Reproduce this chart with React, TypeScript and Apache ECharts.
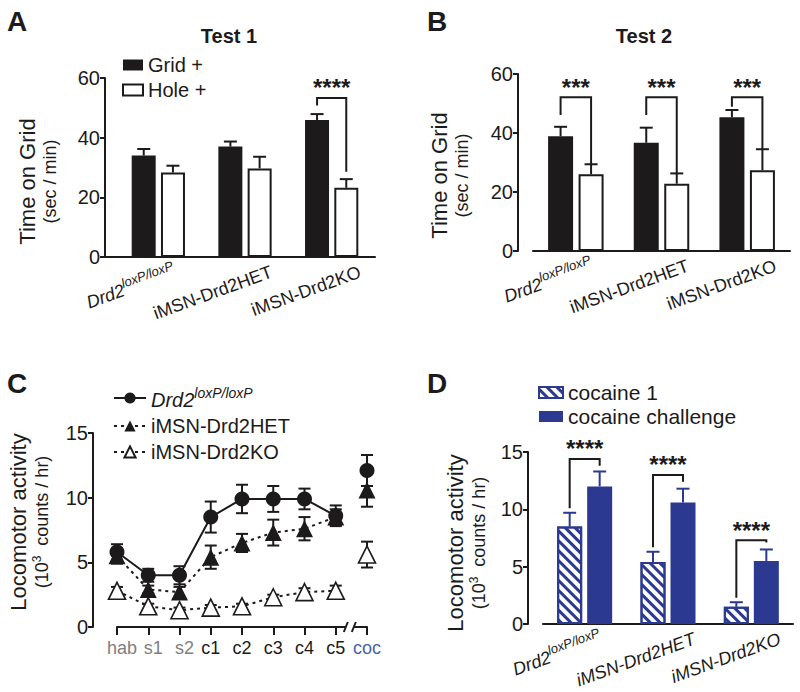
import React, { useEffect, useRef } from 'react';
import * as echarts from 'echarts';

// ---------- data ----------
const groups = ['Drd2loxP/loxP', 'iMSN-Drd2HET', 'iMSN-Drd2KO'];

// Panel A – Test 1 (sec / min)
const aGrid = [34.0, 37.0, 45.9];
const aGridErr = [2.2, 1.7, 2.0];
const aHole = [28.3, 29.7, 23.2];
const aHoleErr = [2.3, 3.9, 2.9];
// [group, bracket top, left leg end, right leg end]
const aBrackets = [[2, 53.3, 50.8, 28.6]];

// Panel B – Test 2 (sec / min)
const bGrid = [38.9, 36.7, 45.3];
const bGridErr = [3.2, 5.1, 2.5];
const bHole = [26.0, 22.8, 27.4];
const bHoleErr = [3.4, 3.5, 7.1];
const bBrackets = [
  [0, 52.1, 46.1, 29.4],
  [1, 52.1, 46.1, 26.3],
  [2, 52.1, 48.9, 34.5],
];

// Panel C – locomotor activity by session (10^3 counts / hr)
const phases = ['hab', 's1', 's2', 'c1', 'c2', 'c3', 'c4', 'c5', 'coc'];
const cFlox = [5.8, 4.0, 4.0, 8.5, 9.9, 9.9, 9.9, 8.6, 12.1];
const cFloxErr = [0.6, 0.5, 0.7, 1.2, 1.1, 1.0, 0.8, 0.8, 1.2];
const cHet = [5.5, 2.9, 2.7, 5.4, 6.5, 7.3, 7.6, 8.5, 10.6];
const cHetErr = [0.6, 0.3, 0.4, 0.9, 0.7, 1.0, 0.9, 0.6, 1.3];
const cKo = [2.8, 1.6, 1.3, 1.5, 1.6, 2.3, 2.7, 2.8, 5.6];
const cKoErr = [0.3, 0.2, 0.2, 0.2, 0.2, 0.2, 0.3, 0.4, 1.0];

// Panel D – cocaine 1 vs challenge (10^3 counts / hr)
const dCoc1 = [8.5, 5.4, 1.5];
const dCoc1Err = [1.2, 0.9, 0.4];
const dChal = [12.0, 10.6, 5.5];
const dChalErr = [1.3, 1.2, 1.0];
const dBrackets = [
  [0, 14.4, 10.1, 13.8],
  [1, 13.0, 6.7, 12.4],
  [2, 7.3, 2.3, 7.1],
];

const yTicksA = [0, 20, 40, 60];
const yTicksC = [0, 5, 10, 15];

// ---------- styles ----------
const FONT = '"Liberation Sans", Arial, Helvetica, sans-serif';
const BLACK = '#1c1a1b';
const NAVY = '#2b3990';
const COC_BLUE = '#4a63a8';
const GRAY = '#808080';
const LABEL_DX = [12, 22, 24];

function valueAxis(gridIndex: number, ticks: number[], offset: number, name: string, nameGap: number, rich: any, padding: number[]) {
  return {
    type: 'value',
    gridIndex,
    min: ticks[0],
    max: ticks[ticks.length - 1],
    interval: ticks[1] - ticks[0],
    offset,
    splitLine: { show: false },
    axisLine: { show: true, lineStyle: { color: BLACK, width: 2 } },
    axisTick: { show: true, length: 5, lineStyle: { color: BLACK, width: 2 } },
    axisLabel: { color: BLACK, fontSize: 20, fontFamily: FONT, margin: 5 },
    name,
    nameLocation: 'middle',
    nameRotate: 90,
    nameGap,
    nameTextStyle: { fontFamily: FONT, color: BLACK, rich, padding },
  };
}

function catAxis(gridIndex: number, data: string[]) {
  return {
    type: 'category',
    gridIndex,
    data,
    axisLine: { show: true, lineStyle: { color: BLACK, width: 2 } },
    axisTick: { show: false },
    axisLabel: { show: false },
    splitLine: { show: false },
  };
}

function errSeries(axis: number, vals: number[], errs: number[], dx: number, color: string) {
  return {
    type: 'custom',
    xAxisIndex: axis,
    yAxisIndex: axis,
    z: 5,
    silent: true,
    data: vals.map((v, i) => [i, v, v + errs[i]]),
    renderItem: (_p: any, api: any) => {
      const base = api.coord([api.value(0), api.value(1)]);
      const top = api.coord([api.value(0), api.value(2)]);
      const x = base[0] + dx;
      const st = { stroke: color, lineWidth: 2 };
      return {
        type: 'group',
        children: [
          { type: 'line', shape: { x1: x, y1: base[1], x2: x, y2: top[1] }, style: st },
          { type: 'line', shape: { x1: x - 6.5, y1: top[1], x2: x + 6.5, y2: top[1] }, style: st },
        ],
      };
    },
  };
}

function bracketSeries(axis: number, brackets: number[][], dx: number, stars: string) {
  return {
    type: 'custom',
    xAxisIndex: axis,
    yAxisIndex: axis,
    z: 6,
    silent: true,
    data: brackets,
    renderItem: (_p: any, api: any) => {
      const c = api.value(0);
      const t = api.coord([c, api.value(1)]);
      const l = api.coord([c, api.value(2)]);
      const r = api.coord([c, api.value(3)]);
      const xl = t[0] - dx;
      const xr = t[0] + dx;
      return {
        type: 'group',
        children: [
          {
            type: 'polyline',
            shape: { points: [[xl, l[1]], [xl, t[1]], [xr, t[1]], [xr, r[1]]] },
            style: { stroke: BLACK, lineWidth: 2, fill: null },
          },
          {
            type: 'text',
            style: {
              text: stars,
              x: (xl + xr) / 2,
              y: t[1] - 10,
              align: 'center',
              verticalAlign: 'middle',
              fontSize: 24,
              fontWeight: 'bold',
              fontFamily: FONT,
              fill: BLACK,
            },
          },
        ],
      };
    },
  };
}

function pointErrSeries(vals: number[], errs: number[]) {
  return {
    type: 'custom',
    xAxisIndex: 2,
    yAxisIndex: 2,
    z: 2,
    silent: true,
    data: vals.map((v, i) => [i, v, errs[i]]),
    renderItem: (_p: any, api: any) => {
      const i = api.value(0);
      const v = api.value(1);
      const e = api.value(2);
      const hi = api.coord([i, v + e]);
      const lo = api.coord([i, v - e]);
      const st = { stroke: BLACK, lineWidth: 2 };
      return {
        type: 'group',
        children: [
          { type: 'line', shape: { x1: hi[0], y1: hi[1], x2: lo[0], y2: lo[1] }, style: st },
          { type: 'line', shape: { x1: hi[0] - 6, y1: hi[1], x2: hi[0] + 6, y2: hi[1] }, style: st },
          { type: 'line', shape: { x1: lo[0] - 6, y1: lo[1], x2: lo[0] + 6, y2: lo[1] }, style: st },
        ],
      };
    },
  };
}

const yNameRichGrid = {
  t: { fontSize: 22, lineHeight: 26, fontFamily: FONT, color: BLACK },
  s: { fontSize: 18, lineHeight: 20, fontFamily: FONT, color: BLACK },
};
const yNameRichLoco = {
  t: { fontSize: 22, lineHeight: 26, fontFamily: FONT, color: BLACK },
  s: { fontSize: 18, lineHeight: 20, fontFamily: FONT, color: BLACK, verticalAlign: 'bottom' },
  u: { fontSize: 12, lineHeight: 20, fontFamily: FONT, color: BLACK, verticalAlign: 'top', padding: [0, 0, 8, 0] },
};

const cStyles = [
  { name: groups[0], vals: cFlox, errs: cFloxErr, symbol: 'circle', size: 15, fill: BLACK, line: 'solid' as any },
  { name: groups[1], vals: cHet, errs: cHetErr, symbol: 'triangle', size: 17, fill: BLACK, line: [3, 4] },
  { name: groups[2], vals: cKo, errs: cKoErr, symbol: 'triangle', size: 17, fill: '#ffffff', line: [3, 4] },
];

function buildOption() {
  const series: any[] = [];
  // Panel A
  series.push(
    { name: 'Grid +', type: 'bar', xAxisIndex: 0, yAxisIndex: 0, data: aGrid, barWidth: 24, barGap: '22%', itemStyle: { color: BLACK }, z: 3 },
    { name: 'Hole +', type: 'bar', xAxisIndex: 0, yAxisIndex: 0, data: aHole, barWidth: 24, barGap: '22%', itemStyle: { color: '#ffffff', borderColor: BLACK, borderWidth: 2 }, z: 3 },
    errSeries(0, aGrid, aGridErr, -14.6, BLACK),
    errSeries(0, aHole, aHoleErr, 14.6, BLACK),
    bracketSeries(0, aBrackets, 14.6, '****'),
  );
  // Panel B
  series.push(
    { name: 'Test 2 Grid +', type: 'bar', xAxisIndex: 1, yAxisIndex: 1, data: bGrid, barWidth: 25, barGap: '22%', itemStyle: { color: BLACK }, z: 3 },
    { name: 'Test 2 Hole +', type: 'bar', xAxisIndex: 1, yAxisIndex: 1, data: bHole, barWidth: 25, barGap: '22%', itemStyle: { color: '#ffffff', borderColor: BLACK, borderWidth: 2 }, z: 3 },
    errSeries(1, bGrid, bGridErr, -15.25, BLACK),
    errSeries(1, bHole, bHoleErr, 15.25, BLACK),
    bracketSeries(1, bBrackets, 15.25, '***'),
  );
  // Panel C
  cStyles.forEach((s) => {
    series.push(pointErrSeries(s.vals, s.errs));
  });
  cStyles.forEach((s) => {
    const itemStyle = { color: s.fill, borderColor: BLACK, borderWidth: s.fill === BLACK ? 0 : 1.6, opacity: 1 };
    series.push({
      name: s.name,
      type: 'line',
      xAxisIndex: 2,
      yAxisIndex: 2,
      data: s.vals.map((v, i) => (i < phases.length - 1 ? v : '-')),
      symbol: s.symbol,
      symbolSize: s.size,
      showAllSymbol: true,
      lineStyle: { color: BLACK, width: 2, type: s.line },
      itemStyle,
      z: 4,
    });
    series.push({
      name: s.name + ' (challenge)',
      type: 'scatter',
      xAxisIndex: 2,
      yAxisIndex: 2,
      data: s.vals.map((v, i) => (i === phases.length - 1 ? v : '-')),
      symbol: s.symbol,
      symbolSize: s.size,
      itemStyle,
      z: 4,
    });
  });
  // Panel D
  series.push(
    {
      name: 'cocaine 1', type: 'bar', xAxisIndex: 3, yAxisIndex: 3, data: dCoc1, barWidth: 25, barGap: '20%', z: 3,
      itemStyle: {
        color: '#ffffff', borderColor: NAVY, borderWidth: 2,
        decal: { symbol: 'rect', symbolSize: 1, color: NAVY, dashArrayX: [1, 0], dashArrayY: [2.5, 3.5], rotation: Math.PI / 4 },
      },
    },
    { name: 'cocaine challenge', type: 'bar', xAxisIndex: 3, yAxisIndex: 3, data: dChal, barWidth: 25, barGap: '20%', z: 3, itemStyle: { color: NAVY } },
    errSeries(3, dCoc1, dCoc1Err, -15, NAVY),
    errSeries(3, dChal, dChalErr, 15, NAVY),
    bracketSeries(3, dBrackets, 15, '****'),
  );

  return {
    animation: false,
    backgroundColor: '#ffffff',
    textStyle: { fontFamily: FONT, color: BLACK },
    grid: [
      { left: 115, top: 78, width: 260, height: 179, outerBoundsMode: 'none' },
      { left: 533, top: 74, width: 257, height: 177, outerBoundsMode: 'none' },
      { left: 117, top: 433, width: 250, height: 194, outerBoundsMode: 'none' },
      { left: 543, top: 452, width: 250, height: 172, outerBoundsMode: 'none' },
    ],
    xAxis: [
      catAxis(0, groups),
      catAxis(1, groups),
      {
        type: 'category',
        gridIndex: 2,
        data: phases,
        boundaryGap: false,
        axisLine: { show: true, lineStyle: { color: BLACK, width: 2 } },
        axisTick: { show: true, length: 8, interval: 0, lineStyle: { color: BLACK, width: 2 } },
        axisLabel: {
          interval: 0,
          margin: 12,
          fontFamily: FONT,
          fontSize: 18,
          formatter: (v: string, i: number) => (i < 3 ? `{g|${v}}` : i === phases.length - 1 ? `{b|${v}}` : `{k|${v}}`),
          rich: {
            g: { color: GRAY, fontSize: 18, fontFamily: FONT, padding: [0, 0, 0, 10] },
            k: { color: BLACK, fontSize: 18, fontFamily: FONT },
            b: { color: COC_BLUE, fontSize: 18, fontFamily: FONT },
          },
        },
        splitLine: { show: false },
      },
      catAxis(3, groups),
    ],
    yAxis: [
      valueAxis(0, yTicksA, 10, '{t|Time on Grid}\n{s|(sec / min)}', 45, yNameRichGrid, [0, 28, 0, 0]),
      valueAxis(1, yTicksA, 15, '{t|Time on Grid}\n{s|(sec / min)}', 46, yNameRichGrid, [0, 26, 0, 0]),
      valueAxis(2, yTicksC, 24, '{t|Locomotor activity}\n{s|(10}{u|3}{s|  counts / hr)}', 42, yNameRichLoco, [0, 0, 0, 16]),
      valueAxis(3, yTicksC, 15, '{t|Locomotor activity}\n{s|(10}{u|3}{s|  counts / hr)}', 40, yNameRichLoco, [0, 10, 0, 0]),
    ],
    legend: [
      {
        data: ['Grid +', 'Hole +'],
        left: 117, top: 50, orient: 'vertical', icon: 'rect', itemWidth: 20, itemHeight: 11, itemGap: 5,
        selectedMode: false,
        textStyle: { fontSize: 20, fontFamily: FONT, color: BLACK },
      },
      {
        data: cStyles.map((s) => s.name),
        left: 108, top: 381, orient: 'vertical', itemWidth: 32, itemHeight: 14, itemGap: 6,
        selectedMode: false,
        formatter: (n: string) => (n === groups[0] ? '{i|Drd2}{sup|loxP/loxP}' : n),
        textStyle: {
          fontSize: 20, fontFamily: FONT, color: BLACK,
          rich: {
            i: { fontSize: 20, fontStyle: 'italic', fontFamily: FONT, color: BLACK, lineHeight: 24, verticalAlign: 'bottom' },
            sup: { fontSize: 14, fontStyle: 'italic', fontFamily: FONT, color: BLACK, lineHeight: 14, verticalAlign: 'top' },
          },
        },
      },
      {
        data: ['cocaine 1', 'cocaine challenge'],
        left: 533, top: 377, orient: 'vertical', icon: 'rect', itemWidth: 24, itemHeight: 11, itemGap: 3,
        selectedMode: false,
        textStyle: { fontSize: 21, fontFamily: FONT, color: BLACK },
      },
    ],
    series,
  };
}

function xLabelGraphics(chart: any, axis: number, allItalic: boolean) {
  const y0 = chart.convertToPixel({ yAxisIndex: axis }, 0);
  const rich = {
    i: { fontSize: 18, fontStyle: 'italic', fontFamily: FONT, fill: BLACK, lineHeight: 22, verticalAlign: 'bottom' },
    n: { fontSize: 18, fontStyle: 'normal', fontFamily: FONT, fill: BLACK, lineHeight: 22, verticalAlign: 'bottom' },
    s: { fontSize: 13, fontStyle: 'italic', fontFamily: FONT, fill: BLACK, lineHeight: 14, verticalAlign: 'top' },
  };
  return groups.map((g, i) => {
    const x = chart.convertToPixel({ xAxisIndex: axis }, g);
    const text = i === 0 ? '{i|Drd2}{s|loxP/loxP}' : allItalic ? `{i|${g}}` : `{n|${g}}`;
    return {
      type: 'text',
      x: x + LABEL_DX[i],
      y: y0 + 2,
      rotation: (20 * Math.PI) / 180,
      silent: true,
      style: { text, align: 'right', verticalAlign: 'top', fontSize: 18, fontFamily: FONT, fill: BLACK, rich },
    };
  });
}

function buildGraphics(chart: any) {
  const g: any[] = [];
  const letter = (t: string, x: number, y: number) => ({
    type: 'text', x, y, silent: true,
    style: { text: t, fontSize: 28, fontWeight: 'bold', fontFamily: FONT, fill: BLACK, align: 'left', verticalAlign: 'top' },
  });
  g.push(letter('A', 7, 7), letter('B', 427, 7), letter('C', 7, 369), letter('D', 427, 369));
  const title = (t: string, x: number, y: number) => ({
    type: 'text', x, y, silent: true,
    style: { text: t, fontSize: 20, fontWeight: 'bold', fontFamily: FONT, fill: BLACK, align: 'center', verticalAlign: 'middle' },
  });
  g.push(title('Test 1', 229, 36), title('Test 2', 644, 36));
  g.push(...xLabelGraphics(chart, 0, false), ...xLabelGraphics(chart, 1, false), ...xLabelGraphics(chart, 3, true));

  // join x-axis line to the y-axis in panel A
  const aY0 = chart.convertToPixel({ yAxisIndex: 0 }, 0);
  const aX0 = chart.convertToPixel({ xAxisIndex: 0 }, groups[0]);
  const gridLeftA = aX0 - 260 / 6;
  g.push({ type: 'line', silent: true, shape: { x1: gridLeftA - 11, y1: aY0, x2: gridLeftA, y2: aY0 }, style: { stroke: BLACK, lineWidth: 2 } });

  // axis break in panel C between c5 and coc
  const xc5 = chart.convertToPixel({ xAxisIndex: 2 }, phases[phases.length - 2]);
  const xcoc = chart.convertToPixel({ xAxisIndex: 2 }, phases[phases.length - 1]);
  const cY0 = chart.convertToPixel({ yAxisIndex: 2 }, 0);
  const bx = xc5 + (xcoc - xc5) * 0.45;
  g.push(
    { type: 'rect', silent: true, shape: { x: bx - 4, y: cY0 - 3, width: 8, height: 6 }, style: { fill: '#ffffff' }, z: 100 },
    { type: 'line', silent: true, shape: { x1: bx - 6, y1: cY0 + 5, x2: bx - 2, y2: cY0 - 5 }, style: { stroke: BLACK, lineWidth: 2 }, z: 101 },
    { type: 'line', silent: true, shape: { x1: bx + 2, y1: cY0 + 5, x2: bx + 6, y2: cY0 - 5 }, style: { stroke: BLACK, lineWidth: 2 }, z: 101 },
  );
  return g;
}

export default function App() {
  const ref = useRef<HTMLDivElement>(null);
  useEffect(() => {
    const el = ref.current;
    if (!el) return;
    const chart = echarts.init(el, null, { renderer: 'svg' });
    chart.setOption(buildOption() as any);
    chart.setOption({ graphic: buildGraphics(chart) } as any);
    return () => chart.dispose();
  }, []);
  return (
    <div
      ref={ref}
      style={{ position: 'absolute', left: 0, top: 0, width: 800, height: 692, background: '#ffffff' }}
    />
  );
}
